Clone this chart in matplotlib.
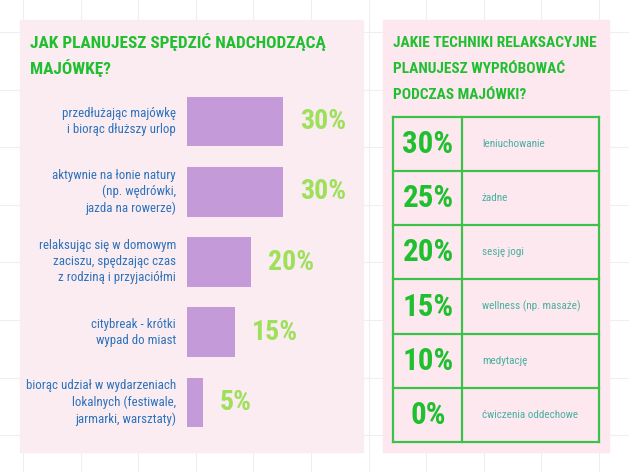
import matplotlib.pyplot as plt
import matplotlib.font_manager as fm
import numpy as np

# data
activities = ['przedłużając majówkę\ni biorąc dłuższy urlop',
              'aktywnie na łonie natury\n(np. wędrówki,\njazda na rowerze)',
              'relaksując się w domowym\nzaciszu, spędzając czas\nz rodziną i przyjaciółmi',
              'citybreak - krótki\nwypad do miast',
              'biorąc udział w wydarzeniach\nlokalnych (festiwale,\njarmarki, warsztaty)']
activity_pct = [30, 30, 20, 15, 5]

techniques = ['leniuchowanie', 'żadne', 'sesję jogi', 'wellness (np. masaże)',
              'medytację', 'ćwiczenia oddechowe']
technique_pct = [30, 25, 20, 15, 10, 0]

title_left = 'JAK PLANUJESZ SPĘDZIĆ NADCHODZĄCĄ\nMAJÓWKĘ?'
title_right = 'JAKIE TECHNIKI RELAKSACYJNE\nPLANUJESZ WYPRÓBOWAĆ\nPODCZAS MAJÓWKI?'

# pick a narrow font if one is installed
installed = {f.name for f in fm.fontManager.ttflist}
narrow = [f.name for f in fm.fontManager.ttflist
          if f.stretch in ('condensed', 'semi-condensed', 'extra-condensed')]
prefs = ['Liberation Sans Narrow', 'Roboto Condensed', 'Noto Sans Condensed',
         'Open Sans Condensed', 'DejaVu Sans Condensed'] + sorted(set(narrow))
font = next((p for p in prefs if p in installed), 'DejaVu Sans')
plt.rcParams['font.family'] = [font, 'DejaVu Sans']

W, H = 629, 472
fig = plt.figure(figsize=(W / 100, H / 100), dpi=100)
fig.patch.set_facecolor('white')


def px_axes(x0, y0, x1, y1):
    # axes placed in pixel coords (top-left origin)
    return fig.add_axes([x0 / W, 1 - y1 / H, (x1 - x0) / W, (y1 - y0) / H])


def fit(texts, target_w):
    # shrink / grow a group of texts so the widest one is target_w pixels
    r = fig.canvas.get_renderer()
    widest = max(t.get_window_extent(r).width for t in texts)
    for t in texts:
        t.set_fontsize(t.get_fontsize() * target_w / widest)


# background with faint grid and the two panels
bg = fig.add_axes([0, 0, 1, 1])
bg.set_xlim(0, W)
bg.set_ylim(H, 0)
bg.axis('off')
for gx in np.arange(23, W, 57.6):
    bg.axvline(gx, color='#efefef', lw=0.8, zorder=0)
for gy in np.arange(32, H, 57.6):
    bg.axhline(gy, color='#efefef', lw=0.8, zorder=0)
bg.add_patch(plt.Rectangle((20, 20), 343, 432, color='#faecf1', zorder=1))
bg.add_patch(plt.Rectangle((383, 20), 226, 432, color='#fde8f0', zorder=1))

t_left = bg.text(30, 55, title_left, color='#1fbf2f', fontsize=15.5,
                 fontweight='bold', ha='left', va='center', linespacing=1.6,
                 zorder=2)
t_right = bg.text(393, 69, title_right, color='#1fbf2f', fontsize=13.5,
                  fontweight='bold', ha='left', va='center', linespacing=2.05,
                  zorder=2)

# left: bar chart
ax = px_axes(187, 86.4, 347, 437.6)
ax.set_xlim(0, 50)
ax.set_ylim(len(activities) - 0.5, -0.5)
ax.axis('off')
y = np.arange(len(activities))
ax.barh(y, activity_pct, height=0.71, color='#c49bd8')
cat_texts, pct_texts = [], []
for i, (lab, v) in enumerate(zip(activities, activity_pct)):
    cat_texts.append(ax.text(-3.4, i, lab, ha='right', va='center',
                             color='#2c72bc', fontsize=10.5, linespacing=1.3))
    pct_texts.append(ax.text(v + 5.3, i, f'{v}%', ha='left', va='center',
                             color='#9ee05a', fontsize=19, fontweight='bold'))

# right: table
tx = px_axes(393, 117, 599, 442)
tx.set_xlim(0, 1)
tx.set_ylim(len(techniques), 0)
tx.axis('off')
line_c = '#3cc24a'
for r in range(len(techniques) + 1):
    tx.axhline(r, color=line_c, lw=1.6, clip_on=False)
for c in [0, 0.335, 1]:
    tx.axvline(c, color=line_c, lw=1.6, clip_on=False)
tpct_texts, tlab_texts = [], []
for r, (lab, v) in enumerate(zip(techniques, technique_pct)):
    tpct_texts.append(tx.text(0.17, r + 0.5, f'{v}%', ha='center', va='center',
                              color='#1fbf2f', fontsize=21, fontweight='bold'))
    tlab_texts.append(tx.text(0.432, r + 0.5, lab, ha='left', va='center',
                              color='#4ab0a0', fontsize=8.5))

# size the texts to the widths seen in the reference
fit([t_left], 296)
fit([t_right], 206)
fit(cat_texts, 150)
fit(pct_texts, 46)
fit(tpct_texts, 51)
fit(tlab_texts, 98)

fig.savefig('out.png', dpi=100)
